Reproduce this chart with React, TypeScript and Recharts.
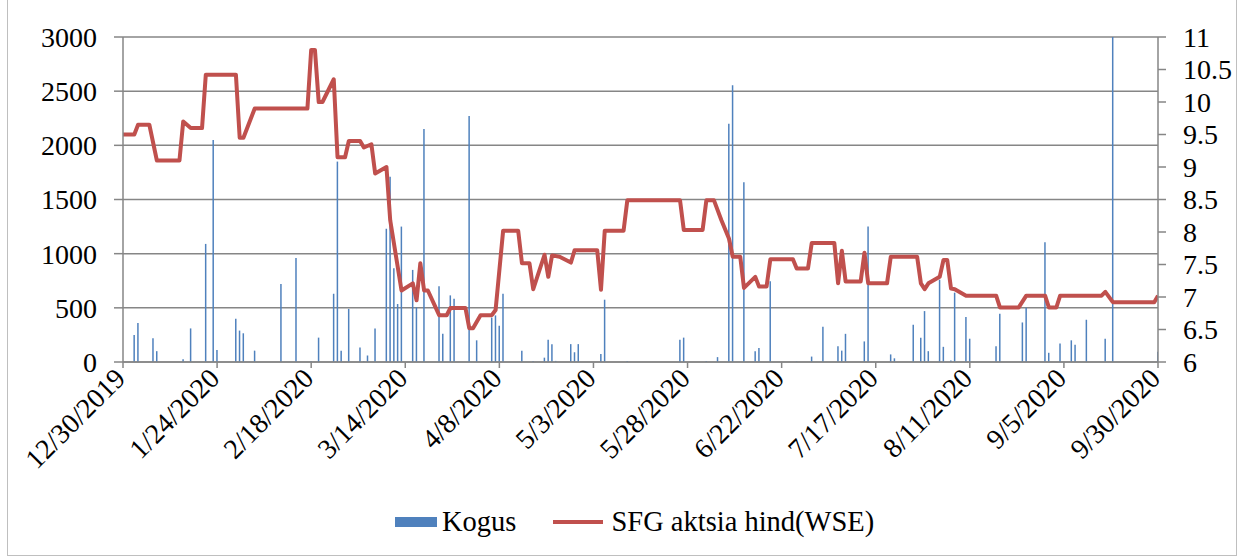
import { ComposedChart, Bar, Line, XAxis, YAxis, CartesianGrid, Legend } from 'recharts';

// x axis: days since 12/30/2019
const tickDays = [0, 25, 50, 75, 100, 125, 150, 175, 200, 225, 250, 275];
const tickLabels = [
  '12/30/2019', '1/24/2020', '2/18/2020', '3/14/2020', '4/8/2020', '5/3/2020',
  '5/28/2020', '6/22/2020', '7/17/2020', '8/11/2020', '9/5/2020', '9/30/2020'
];

const volumeTicks = [0, 500, 1000, 1500, 2000, 2500, 3000];
const priceTicks = [6, 6.5, 7, 7.5, 8, 8.5, 9, 9.5, 10, 10.5, 11];

// Kogus (volume) by trading day
const volumeDays = [
  3, 4, 8, 9, 16, 18, 22, 24, 25, 30, 31, 32, 35, 42, 46, 50, 52, 56, 57, 58,
  60, 63, 64, 65, 67, 70, 71, 72, 73, 74, 77, 78, 80, 84, 85, 87, 88, 92, 94, 98,
  99, 100, 101, 106, 109, 112, 113, 114, 115, 119, 120, 121, 127, 128, 134, 148, 149, 155, 158, 161,
  162, 165, 168, 169, 172, 179, 183, 186, 190, 191, 192, 197, 198, 204, 205, 210, 212, 213, 214, 217,
  218, 220, 221, 224, 225, 232, 233, 239, 240, 245, 246, 249, 252, 253, 256, 261, 263, 275
];
const volumeValues = [
  250, 360, 220, 100, 25, 310, 1090, 2050, 110, 400, 290, 265, 105, 720, 960, 8, 225, 630, 1850, 105,
  490, 135, 8, 60, 310, 1230, 1710, 865, 535, 1250, 850, 505, 2150, 700, 260, 615, 585, 2270, 200, 410,
  430, 335, 630, 105, 10, 40, 205, 165, 10, 165, 90, 165, 75, 575, 10, 205, 225, 10, 45, 2200,
  2555, 1660, 100, 130, 745, 5, 50, 325, 145, 105, 260, 190, 1250, 70, 34, 345, 225, 470, 100, 760,
  140, 15, 640, 415, 215, 145, 445, 365, 500, 1105, 85, 170, 200, 160, 390, 215, 3000, 95
];

// SFG aktsia hind (WSE), points where the line turns
const priceDays = [
  0, 3, 4, 7, 9, 15, 16, 18, 21, 22, 30, 31, 32, 35, 49, 50, 51, 52, 53, 56,
  57, 59, 60, 63, 64, 66, 67, 70, 71, 74, 77, 78, 79, 80, 81, 84, 86, 87, 91, 92,
  93, 95, 98, 99, 101, 105, 106, 108, 109, 112, 113, 114, 116, 119, 120, 126, 127, 128, 133, 134,
  148, 149, 154, 155, 157, 159, 161, 162, 164, 165, 168, 169, 171, 172, 178, 179, 182, 183, 189, 190,
  191, 192, 196, 197, 198, 203, 204, 211, 212, 213, 214, 217, 218, 219, 220, 221, 224, 232, 233, 238,
  240, 245, 246, 248, 249, 260, 261, 263, 274, 275
];
const priceValues = [
  9.5, 9.5, 9.65, 9.65, 9.1, 9.1, 9.7, 9.6, 9.6, 10.42, 10.42, 9.45, 9.45, 9.9, 9.9, 10.8, 10.8, 10.0, 10.0, 10.35,
  9.15, 9.15, 9.4, 9.4, 9.3, 9.35, 8.9, 9.0, 8.18, 7.1, 7.21, 6.95, 7.52, 7.1, 7.1, 6.72, 6.72, 6.83, 6.83, 6.52,
  6.52, 6.72, 6.72, 6.8, 8.02, 8.02, 7.52, 7.52, 7.12, 7.65, 7.31, 7.64, 7.62, 7.53, 7.72, 7.72, 7.11, 8.02, 8.02, 8.49,
  8.49, 8.03, 8.03, 8.49, 8.49, 8.18, 7.9, 7.62, 7.62, 7.14, 7.31, 7.16, 7.16, 7.58, 7.58, 7.44, 7.44, 7.83, 7.83, 7.21,
  7.71, 7.24, 7.24, 7.68, 7.21, 7.21, 7.62, 7.62, 7.21, 7.12, 7.21, 7.31, 7.57, 7.57, 7.13, 7.12, 7.02, 7.02, 6.84, 6.84,
  7.02, 7.02, 6.84, 6.84, 7.02, 7.02, 7.08, 6.92, 6.92, 7.02
];

type Row = { day: number; volume?: number; price?: number };

const rows = new Map<number, Row>();
volumeDays.forEach((d, i) => rows.set(d, { ...(rows.get(d) ?? { day: d }), volume: volumeValues[i] }));
priceDays.forEach((d, i) => rows.set(d, { ...(rows.get(d) ?? { day: d }), price: priceValues[i] }));
const data: Row[] = [...rows.values()].sort((a, b) => a.day - b.day);

const FONT = 'Liberation Serif, Times New Roman, serif';
const AXIS_FONT = 28;
const LEGEND_FONT = 28.5;
const GRID = '#868686';
const BLUE = '#4F81BD';
const RED = '#C0504D';

const DateTick = (props: any) => {
  const { x, y, payload } = props;
  const label = tickLabels[tickDays.indexOf(payload.value)];
  return (
    <text
      x={0}
      y={0}
      transform={`translate(${x + 4},${y + 10}) rotate(-45)`}
      textAnchor="end"
      fontSize={AXIS_FONT}
      fontFamily={FONT}
      fill="#000"
    >
      {label}
    </text>
  );
};

const renderLegend = () => (
  <div
    style={{
      display: 'flex',
      alignItems: 'center',
      height: 32,
      paddingLeft: 395,
      fontFamily: FONT,
      fontSize: LEGEND_FONT,
      color: '#000'
    }}
  >
    <span style={{ width: 42, height: 10, background: BLUE, marginRight: 5 }} />
    <span>Kogus</span>
    <span style={{ width: 50, height: 4, background: RED, marginLeft: 37, marginRight: 8 }} />
    <span>SFG aktsia hind(WSE)</span>
  </div>
);

export default function App() {
  return (
    <div style={{ position: 'absolute', left: 0, top: 0, width: 1241, height: 556, background: '#fff' }}>
      <div
        style={{
          position: 'absolute',
          left: 7,
          top: -1,
          width: 1228,
          height: 555,
          border: '1px solid #bfbfbf'
        }}
      />
      <ComposedChart width={1241} height={556} data={data} margin={{ top: 37, right: 0, left: 0, bottom: 0 }}>
        <CartesianGrid yAxisId="left" vertical={false} stroke={GRID} strokeWidth={1.5} />
        <XAxis
          dataKey="day"
          type="number"
          domain={[0, 275]}
          ticks={tickDays}
          interval={0}
          height={194}
          tick={<DateTick />}
          tickSize={6}
          axisLine={{ stroke: GRID, strokeWidth: 1.5 }}
          tickLine={{ stroke: GRID, strokeWidth: 1.5 }}
          allowDataOverflow
        />
        <YAxis
          yAxisId="left"
          orientation="left"
          width={123}
          domain={[0, 3000]}
          ticks={volumeTicks}
          interval={0}
          tickSize={9}
          tickMargin={17}
          axisLine={{ stroke: GRID, strokeWidth: 1.5 }}
          tickLine={{ stroke: GRID, strokeWidth: 1.5 }}
          tick={{ fontSize: AXIS_FONT, fill: '#000', fontFamily: FONT }}
        />
        <YAxis
          yAxisId="right"
          orientation="right"
          width={83}
          domain={[6, 11]}
          ticks={priceTicks}
          interval={0}
          tickSize={8}
          tickMargin={17}
          axisLine={{ stroke: GRID, strokeWidth: 1.5 }}
          tickLine={{ stroke: GRID, strokeWidth: 1.5 }}
          tick={{ fontSize: AXIS_FONT, fill: '#000', fontFamily: FONT, textAnchor: 'start' }}
        />
        <Legend
          layout="horizontal"
          verticalAlign="middle"
          align="center"
          wrapperStyle={{ top: 506, left: 0, width: 1241 }}
          content={renderLegend}
        />
        <Bar yAxisId="left" dataKey="volume" name="Kogus" fill={BLUE} barSize={1.5} isAnimationActive={false} />
        <Line
          yAxisId="right"
          dataKey="price"
          name="SFG aktsia hind(WSE)"
          type="linear"
          stroke={RED}
          strokeWidth={4}
          strokeLinejoin="round"
          dot={false}
          activeDot={false}
          connectNulls
          isAnimationActive={false}
        />
      </ComposedChart>
    </div>
  );
}
